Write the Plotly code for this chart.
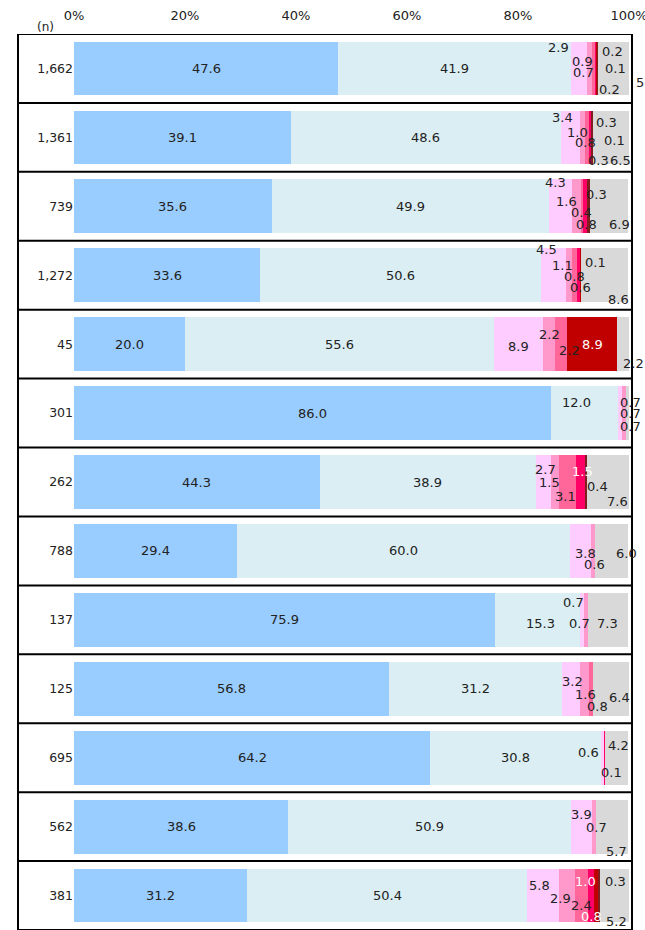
import plotly.graph_objects as go

# ---------------- data ----------------
n_labels = ["1,662", "1,361", "739", "1,272", "45", "301", "262", "788", "137", "125", "695", "562", "381"]
s1 = [47.6, 39.1, 35.6, 33.6, 20.0, 86.0, 44.3, 29.4, 75.9, 56.8, 64.2, 38.6, 31.2]
s2 = [41.9, 48.6, 49.9, 50.6, 55.6, 12.0, 38.9, 60.0, 15.3, 31.2, 30.8, 50.9, 50.4]
s3 = [2.9, 3.4, 4.3, 4.5, 8.9, 0.7, 2.7, 3.8, 0.7, 3.2, 0.6, 3.9, 5.8]
s4 = [0.9, 1.0, 1.6, 1.1, 2.2, 0.7, 1.5, 0.6, 0.7, 1.6, 0.0, 0.7, 2.9]
s5 = [0.7, 0.8, 0.4, 0.8, 2.2, 0.0, 3.1, 0.0, 0.0, 0.8, 0.0, 0.0, 2.4]
s6 = [0.2, 0.3, 0.8, 0.6, 0.0, 0.0, 1.5, 0.0, 0.0, 0.0, 0.1, 0.0, 1.0]
s7 = [0.1, 0.1, 0.0, 0.1, 8.9, 0.0, 0.0, 0.0, 0.0, 0.0, 0.0, 0.0, 0.8]
s8 = [0.2, 0.3, 0.3, 0.0, 0.0, 0.0, 0.4, 0.0, 0.0, 0.0, 0.0, 0.0, 0.3]
s9 = [5.5, 6.5, 6.9, 8.6, 2.2, 0.7, 7.6, 6.0, 7.3, 6.4, 4.2, 5.7, 5.2]
tick_vals = [0, 20, 40, 60, 80, 100]
tick_text = ["0%", "20%", "40%", "60%", "80%", "100%"]

series = [s1, s2, s3, s4, s5, s6, s7, s8, s9]
colors = ["#99CCFF", "#DAEEF3", "#FFCCFF", "#FF99CC", "#FF6699", "#FF0066", "#C00000", "#7F1F1F", "#D9D9D9"]

# ---------------- label placement (offsets: px in x, row-fraction in y) ----------------
Z = (0, 0)
label_off = [
    [Z] * 13,
    [Z, Z, Z, Z, Z, (-8, -0.15), Z, Z, (3, 0.05), Z, Z, Z, Z],
    [(-20, -0.31), (-8, -0.29), (-5, -0.34), (-7, -0.37), (0, 0.03), (11, -0.15), (2, -0.18), (5, 0.04), (-9, -0.25), (1, -0.11), (-14, -0.08), (0, -0.17), (-3, -0.14)],
    [(-7, -0.10), (-5, -0.07), (-10, -0.07), (-7, -0.14), (0, -0.14), (7, 0.0), (-5, 0.01), (2, 0.20), (-6, 0.05), (1, 0.08), Z, (2, 0.02), (-7, 0.04)],
    [(-10, 0.06), (-2, 0.07), (-1, 0.09), (0, 0.02), (8, 0.09), Z, (-2, 0.21), Z, Z, (6, 0.25), Z, Z, (0, 0.15)],
    [(16, -0.25), (8, 0.33), (1, 0.27), (2, 0.18), Z, Z, (2, -0.15), Z, Z, Z, (7, 0.21), Z, (-6, -0.20)],
    [(18, 0.0), (23, 0.04), Z, (15, -0.18), (0, 0.0), Z, Z, Z, Z, Z, Z, Z, (-5, 0.31)],
    [(12, 0.31), (14, -0.22), (8, -0.17), Z, Z, Z, (12, 0.07), Z, Z, Z, Z, Z, (16, -0.20)],
    [(33, 0.20), (9, 0.33), (11, 0.27), (14, 0.35), (11, 0.28), (3, 0.19), (10, 0.28), (15, 0.04), (-1, 0.05), (8, 0.12), (2, -0.18), (4, 0.36), (2, 0.37)],
]
white_labels = {(5, 6), (7, 5), (13, 5), (13, 6)}  # (row 1-based, series index)

PX_PER_PCT = 555 / 100.0
FONT = "DejaVu Sans"

fig = go.Figure()
rows = list(range(len(n_labels)))
for k, (vals, col) in enumerate(zip(series, colors)):
    fig.add_trace(go.Bar(
        y=rows, x=vals, orientation="h", marker=dict(color=col, line=dict(width=0)),
        width=0.78, hoverinfo="skip", showlegend=False,
    ))

annotations = []
for r in rows:
    cum = 0.0
    for k, vals in enumerate(series):
        v = vals[r]
        if v > 0:
            cx = cum + v / 2.0
            dx, dy = label_off[k][r]
            white = (r + 1, k) in white_labels
            annotations.append(dict(
                x=(cx + dx / PX_PER_PCT) / 100.0, y=r + dy, xref="paper", yref="y",
                text=f"{v:.1f}", showarrow=False,
                font=dict(family=FONT, size=13, color="#FFFFFF" if white else "#222222"),
                xanchor="center", yanchor="middle",
            ))
        cum += v

annotations.append(dict(x=-0.052, y=1.0078, xref="paper", yref="paper", text="(n)", showarrow=False,
                        font=dict(family=FONT, size=12, color="#222222"), xanchor="center", yanchor="middle"))

# frame
xl = (18 - 74) / 555.0
xr = (632 - 74) / 555.0
shapes = []
for i in range(-1, len(n_labels)):
    shapes.append(dict(type="line", xref="paper", yref="y", x0=xl, x1=xr, y0=i + 0.5, y1=i + 0.5,
                       line=dict(color="black", width=2), layer="above"))
for xx in (xl, xr):
    shapes.append(dict(type="line", xref="paper", yref="y", x0=xx, x1=xx, y0=-0.5, y1=len(n_labels) - 0.5,
                       line=dict(color="black", width=2), layer="above"))

fig.update_layout(
    width=645, height=930,
    margin=dict(l=74, r=16, t=34, b=0, autoexpand=False),
    barmode="stack", bargap=0.22,
    plot_bgcolor="white", paper_bgcolor="white",
    font=dict(family=FONT, size=13, color="#222222"),
    xaxis=dict(range=[0, 100], side="top", tickvals=tick_vals, ticktext=tick_text,
               showgrid=False, zeroline=False, showline=False, ticks="",
               ticklabelstandoff=10, ticklabeloverflow="allow", automargin=False,
               tickfont=dict(family=FONT, size=13, color="#222222"), fixedrange=True),
    yaxis=dict(range=[len(n_labels) - 0.5, -0.5], tickvals=rows, ticktext=n_labels,
               showgrid=False, zeroline=False, showline=False, ticks="", automargin=False,
               tickfont=dict(family=FONT, size=12.5, color="#222222"), fixedrange=True),
    annotations=annotations, shapes=shapes,
)

fig.write_html("out.html")
